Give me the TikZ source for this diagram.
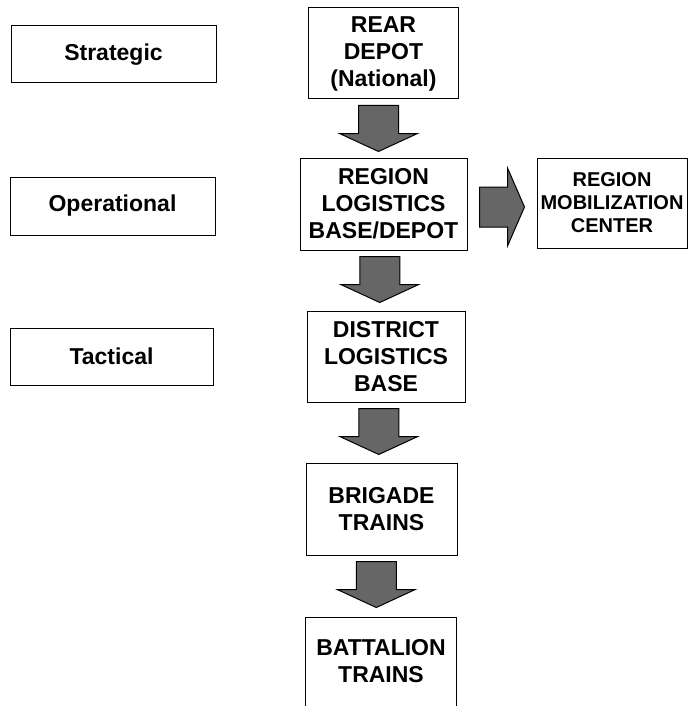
\documentclass[tikz,border=0pt]{standalone}
\usepackage{fontspec}
\setmainfont{Liberation Sans}
\usetikzlibrary{calc}
\tikzset{
  box/.style={draw=black, line width=1pt, rectangle, inner sep=0pt, align=center,
    font=\bfseries\fontsize{23}{27}\selectfont},
  smallbox/.style={box, font=\bfseries\fontsize{20}{23}\selectfont},
  blockarr/.style={draw=black, line width=1pt, fill=black!60, line join=miter},
}
\newcommand{\downblock}[2]{%
  \draw[blockarr] let \p1=(#1.south), \p2=(#2.north), \n1={0.5*\x1+0.5*\x2-5pt} in
    (\n1-20pt,\y1-6pt) -- (\n1+20pt,\y1-6pt) -- (\n1+20pt,\y1-34pt) -- (\n1+39pt,\y1-34pt)
    -- (\n1,\y1-52pt) -- (\n1-39pt,\y1-34pt) -- (\n1-20pt,\y1-34pt) -- cycle;}
\newcommand{\rightblock}[2]{%
  \draw[blockarr] let \p1=(#1.east), \p2=(#2.west), \n1={\y1-3pt} in
    (\x1+12pt,\n1+20pt) -- (\x2-29pt,\n1+20pt) -- (\x2-29pt,\n1+39pt) -- (\x2-12pt,\n1)
    -- (\x2-29pt,\n1-39pt) -- (\x2-29pt,\n1-20pt) -- (\x1+12pt,\n1-20pt) -- cycle;}
\begin{document}
\begin{tikzpicture}[x=1pt,y=1pt]
\clip (0,0) rectangle (688,-706);
\useasboundingbox (0,0) rectangle (688,-706);
% level labels
\node[box, minimum width=205pt, minimum height=57pt] (strat) at (113.5,-54.5) {Strategic};
\node[box, minimum width=205pt, minimum height=58pt] (oper) at (112.5,-206) {Operational};
\node[box, minimum width=203pt, minimum height=57pt] (tact) at (111.5,-356.5) {Tactical};
% chain
\node[box, minimum width=150pt, minimum height=91pt] (rear) at (383.5,-53.5) {REAR\\DEPOT\\(National)};
\node[box, minimum width=167pt, minimum height=92pt] (rlb) at (383.5,-204) {REGION\\LOGISTICS\\BASE/DEPOT};
\node[smallbox, minimum width=150pt, minimum height=90pt] (rmc) at (612,-203) {REGION\\MOBILIZATION\\CENTER};
\node[box, minimum width=158pt, minimum height=91pt] (dlb) at (386,-356.5) {DISTRICT\\LOGISTICS\\BASE};
\node[box, minimum width=151pt, minimum height=92pt] (bde) at (381.5,-509) {BRIGADE\\TRAINS};
\node[box, draw=none, minimum width=150pt, minimum height=88pt, anchor=north] (bn) at (381,-617) {BATTALION\\TRAINS};
\draw[line width=1pt] (bn.south west) ++(0,-20pt) -- (bn.north west) -- (bn.north east) -- ++(0,-108pt);
% block arrows
\downblock{rear}{rlb}
\rightblock{rlb}{rmc}
\downblock{rlb}{dlb}
\downblock{dlb}{bde}
\downblock{bde}{bn}
\end{tikzpicture}
\end{document}
